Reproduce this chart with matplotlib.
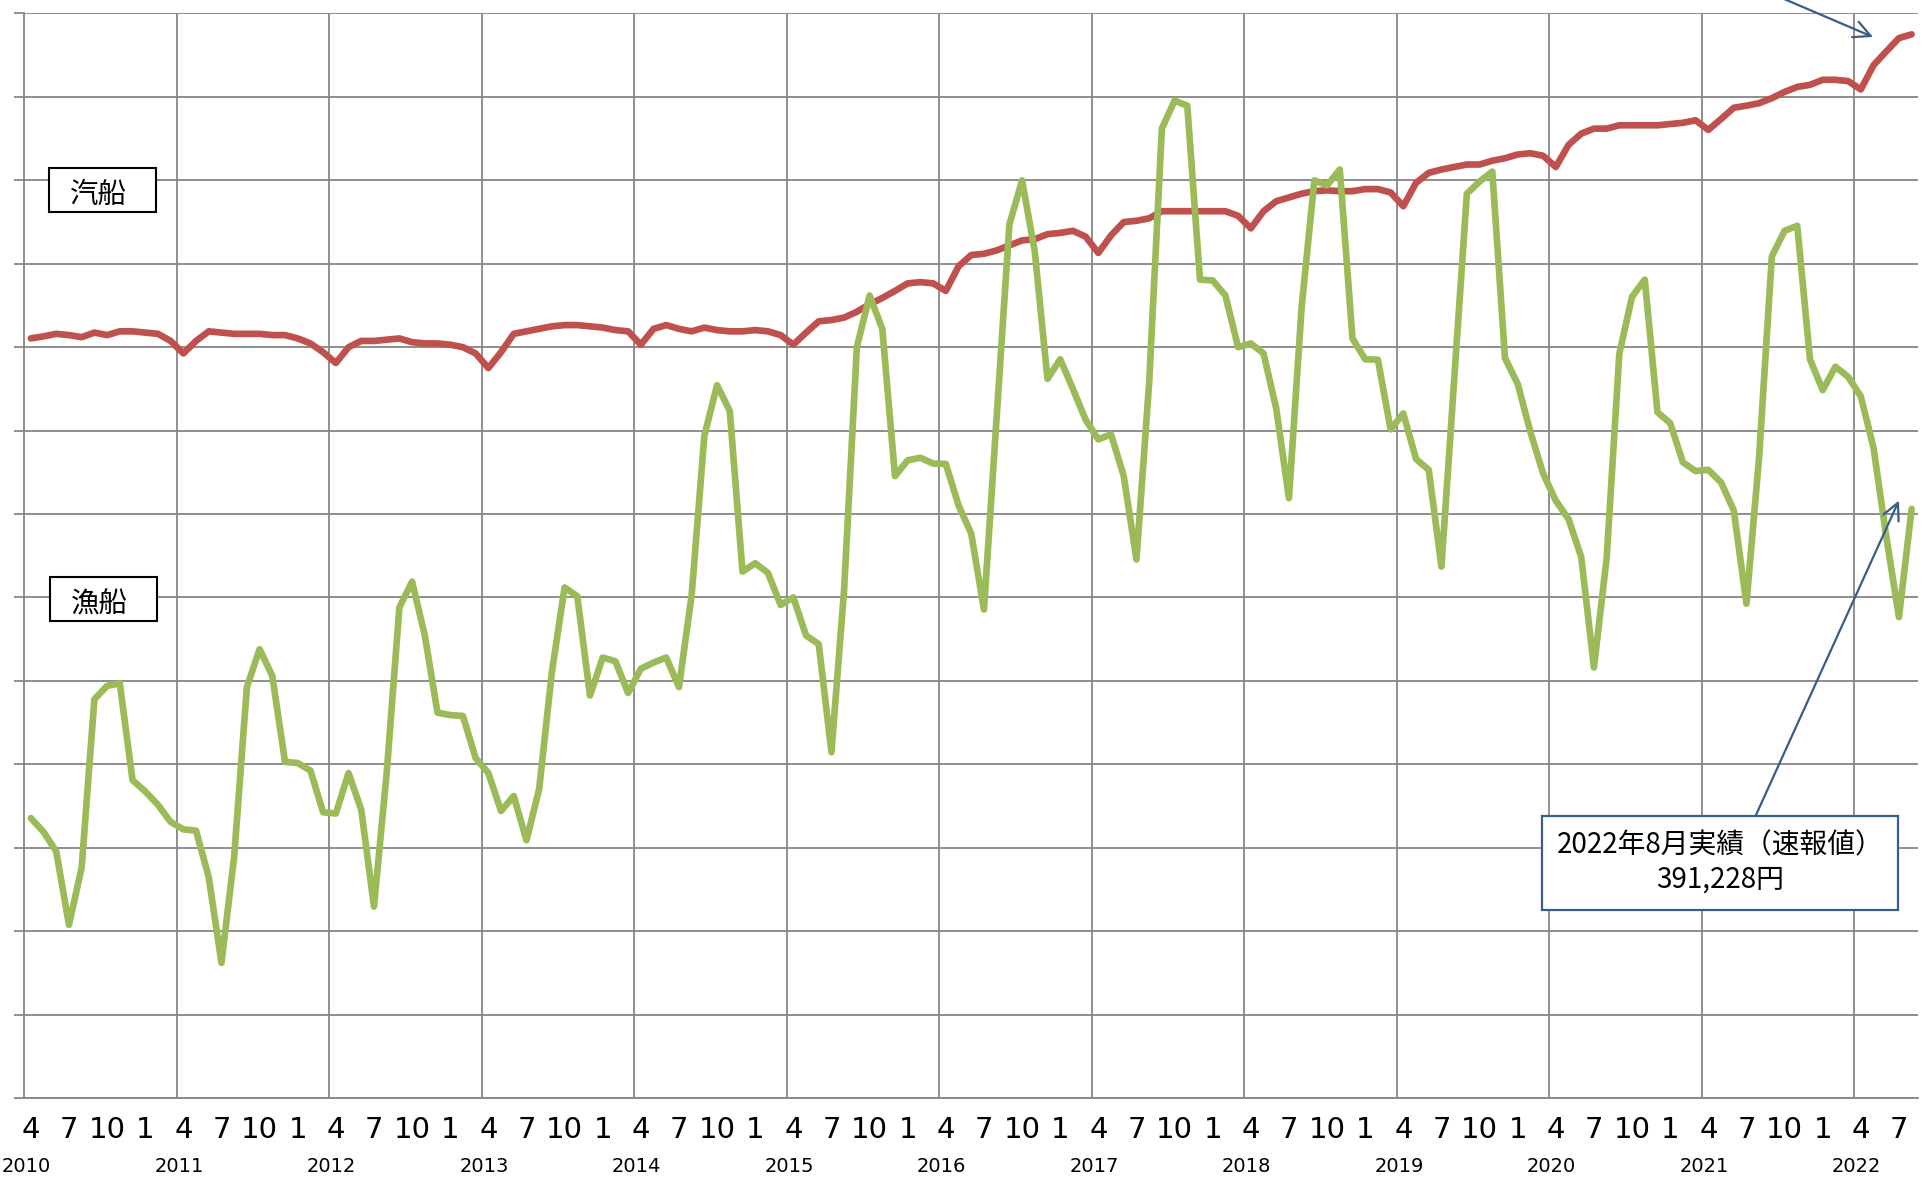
import matplotlib.pyplot as plt
from matplotlib.patches import Rectangle
import matplotlib.transforms as mtransforms

# Dane: miesięcznie od IV 2010 do VIII 2022 (tys. jenów)
years = ['2010', '2011', '2012', '2013', '2014', '2015', '2016',
         '2017', '2018', '2019', '2020', '2021', '2022']
quarter_labels = ['4', '7', '10', '1']

# 汽船
kisen = [
    432.1, 432.6, 433.2, 432.9, 432.4, 433.5, 432.9, 433.8, 433.8, 433.5, 433.2, 431.5,
    428.5, 431.5, 433.8, 433.5, 433.2, 433.2, 433.2, 432.9, 432.9, 432.1, 430.9, 428.8,
    426.2, 430.0, 431.5, 431.5, 431.8, 432.1, 431.2, 430.9, 430.9, 430.6, 430.0, 428.5,
    425.0, 428.8, 433.2, 433.8, 434.4, 435.0, 435.3, 435.3, 435.0, 434.7, 434.1, 433.8,
    430.6, 434.4, 435.3, 434.4, 433.8, 434.7, 434.1, 433.8, 433.8, 434.1, 433.8, 432.9,
    430.6, 433.5, 436.2, 436.5, 437.1, 438.5, 440.3, 441.8, 443.5, 445.3, 445.6, 445.3,
    443.5, 449.4, 452.1, 452.4, 453.2, 454.4, 455.6, 455.9, 457.1, 457.4, 457.9, 456.5,
    452.6, 456.8, 460.0, 460.3, 460.9, 462.6, 462.6, 462.6, 462.6, 462.6, 462.6, 461.5,
    458.5, 462.6, 465.0, 465.9, 466.8, 467.4, 467.6, 467.4, 467.4, 467.9, 467.9, 467.1,
    463.8, 469.4, 471.8, 472.6, 473.2, 473.8, 473.8, 474.7, 475.3, 476.2, 476.5, 475.9,
    473.2, 478.5, 481.2, 482.4, 482.4, 483.2, 483.2, 483.2, 483.2, 483.5, 483.8, 484.4,
    482.1, 484.7, 487.4, 487.9, 488.5, 489.7, 491.2, 492.4, 492.9, 494.1, 494.1, 493.8,
    491.8, 497.6, 500.9, 504.1, 505.0,
]

# 漁船
gyosen = [
    317.1, 313.8, 309.1, 291.5, 305.3, 345.6, 348.8, 349.4, 326.2, 323.5, 320.3, 316.2,
    314.4, 314.1, 302.9, 282.4, 307.9, 348.5, 357.6, 351.2, 330.6, 330.3, 328.5, 318.5,
    318.2, 327.9, 319.1, 295.9, 327.9, 367.6, 373.8, 360.9, 342.4, 341.8, 341.6, 331.5,
    327.9, 318.8, 322.4, 311.8, 324.1, 352.1, 372.4, 370.3, 346.5, 355.6, 354.7, 347.1,
    352.9, 354.4, 355.6, 348.5, 370.6, 408.8, 420.9, 414.7, 376.2, 378.2, 375.9, 368.2,
    370.0, 360.9, 358.8, 332.9, 372.1, 430.0, 442.4, 434.4, 399.1, 402.9, 403.5, 402.1,
    402.0, 392.1, 385.3, 367.1, 413.2, 459.4, 470.0, 452.9, 422.4, 427.1, 420.0, 412.6,
    407.9, 409.1, 399.1, 379.1, 421.5, 482.4, 489.1, 487.9, 446.2, 446.0, 442.4, 430.0,
    430.9, 428.5, 415.3, 393.8, 439.7, 470.0, 468.8, 472.6, 432.1, 427.1, 427.0, 410.3,
    414.1, 403.2, 400.6, 377.4, 422.1, 466.8, 469.7, 472.1, 427.4, 421.2, 409.7, 399.7,
    393.2, 388.8, 379.7, 353.2, 379.4, 428.5, 442.1, 446.2, 414.4, 411.8, 402.4, 400.3,
    400.6, 397.6, 390.9, 368.5, 403.8, 451.8, 457.9, 459.1, 427.1, 419.7, 425.3, 422.9,
    418.2, 405.9, 384.7, 365.3, 391.228,
]

NUM_FONT = ['Liberation Sans Narrow', 'DejaVu Sans']
JP_FONT = ['Noto Sans CJK JP', 'DejaVu Sans']
GRID = '#868686'
BLUE = '#385D8A'

fig = plt.figure(figsize=(19.24, 11.82), dpi=100)
ax = fig.add_axes([0.01273, 0.07107, 0.98415, 0.91751])

x = list(range(len(kisen)))
ax.plot(x, kisen, color='#C0504D', lw=4.8, solid_joinstyle='round',
        solid_capstyle='round', zorder=3)
ax.plot(x, gyosen, color='#9BBB59', lw=4.8, solid_joinstyle='round',
        solid_capstyle='round', zorder=4)

ax.set_xlim(-0.5, len(kisen) - 0.5)
ax.set_ylim(250, 510)

# oś Y: tylko linie siatki i krótkie znaczniki, bez opisów
ax.set_yticks(range(250, 511, 20))
ax.set_yticklabels([])
ax.tick_params(axis='y', length=7, width=1.3, color=GRID, direction='out')

# oś X: miesiące co kwartał, lata pod spodem
xt = list(range(0, len(kisen), 3))
ax.set_xticks(xt)
ax.set_xticklabels([quarter_labels[i % 4] for i in range(len(xt))],
                   fontsize=21, family=NUM_FONT)
ax.set_xticks([11.5 + 12 * k for k in range(len(years) - 1)], minor=True)
ax.tick_params(axis='x', which='both', length=0, pad=13)

ax.yaxis.grid(True, color=GRID, lw=1.3)
ax.xaxis.grid(True, which='minor', color=GRID, lw=1.3)
ax.set_axisbelow(True)

for side in ['top', 'right']:
    ax.spines[side].set_visible(False)
for side in ['left', 'bottom']:
    ax.spines[side].set_color(GRID)
    ax.spines[side].set_linewidth(1.3)

trans = mtransforms.blended_transform_factory(ax.transData, ax.transAxes)
for k, yr in enumerate(years):
    ax.text(-0.35 + 12 * k, -0.0635, yr, transform=trans, ha='center',
            va='center', fontsize=14, family=NUM_FONT)

# podpisy serii w ramkach
for (bx, by, label, tx, ty) in [(0.02547, 0.82064, '汽船', 0.0512, 0.835),
                                (0.02599, 0.47462, '漁船', 0.0517, 0.4890)]:
    fig.add_artist(Rectangle((bx, by), 0.05561, 0.03723, transform=fig.transFigure,
                             facecolor='white', edgecolor='black', lw=1.5, zorder=5))
    fig.text(tx, ty, label, ha='center', va='center', fontsize=20.5,
             family=JP_FONT, zorder=6)

# ramka z wartością za VIII 2022
fig.add_artist(Rectangle((0.8013, 0.23012), 0.18534, 0.07953, transform=fig.transFigure,
                         facecolor='white', edgecolor=BLUE, lw=1.6, zorder=5))
fig.text(0.8940, 0.2703, '2022年8月実績（速報値）\n391,228円', ha='center',
         va='center', fontsize=20, family=JP_FONT, linespacing=1.2, zorder=6)

arrow = dict(arrowstyle='->,head_length=0.6,head_width=0.3', color=BLUE, lw=1.6,
             mutation_scale=20, shrinkA=0, shrinkB=0)
ax.annotate('', xy=(147, gyosen[-1] + 2), xytext=(1756, 367),
            textcoords='figure pixels', arrowprops=arrow, zorder=6)
ax.annotate('', xy=(1873, 1145), xycoords='figure pixels', xytext=(1700, 1219),
            textcoords='figure pixels', arrowprops=arrow, annotation_clip=False)

fig.savefig('out.png', dpi=100)
